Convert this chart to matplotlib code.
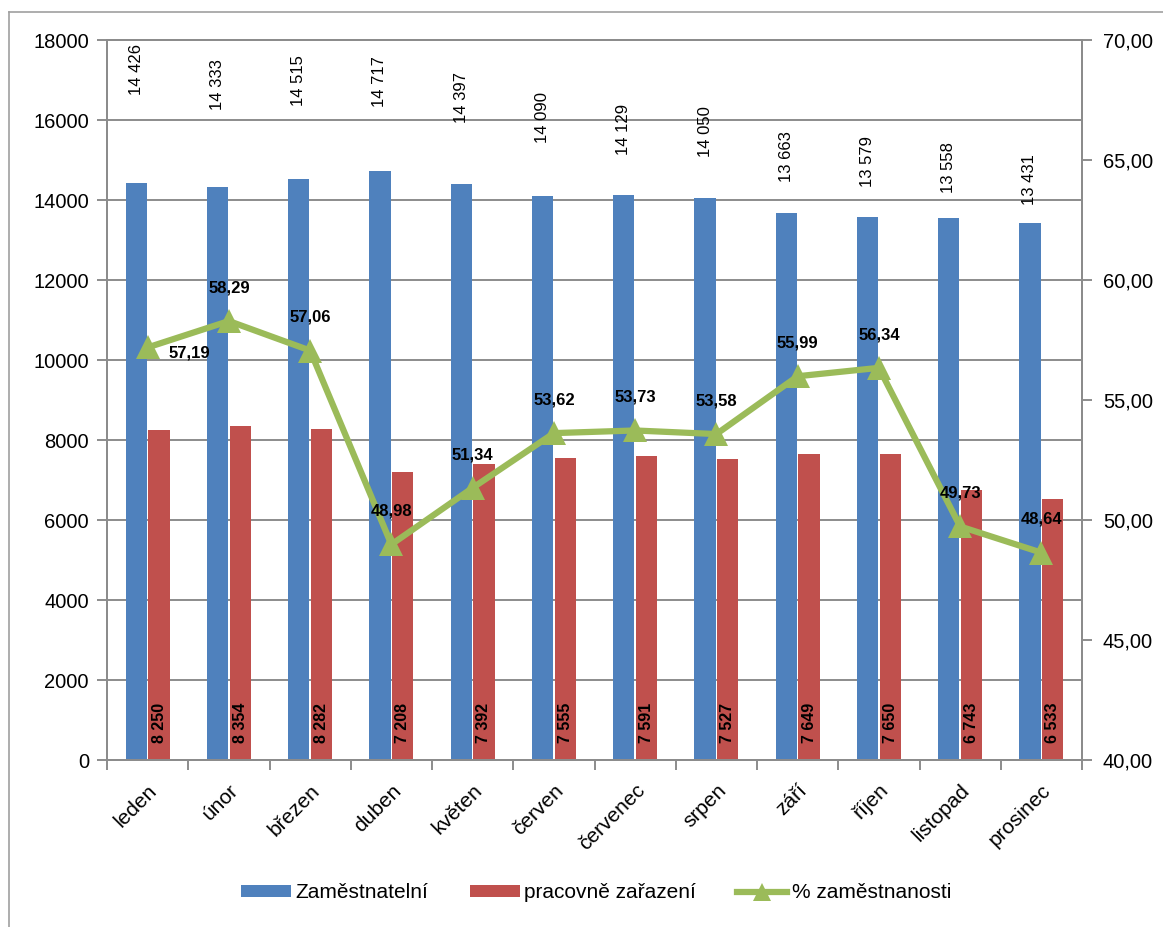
import matplotlib
matplotlib.use("Agg")
import matplotlib.pyplot as plt
import numpy as np
from matplotlib.patches import Patch
from matplotlib.lines import Line2D

plt.rcParams['font.family'] = ['Liberation Sans', 'DejaVu Sans']

months = ["leden", "únor", "březen", "duben", "květen", "červen",
          "červenec", "srpen", "září", "říjen", "listopad", "prosinec"]
zamestnatelni = [14426, 14333, 14515, 14717, 14397, 14090,
                 14129, 14050, 13663, 13579, 13558, 13431]
zarazeni = [8250, 8354, 8282, 7208, 7392, 7555,
            7591, 7527, 7649, 7650, 6743, 6533]
procento = [57.19, 58.29, 57.06, 48.98, 51.34, 53.62,
            53.73, 53.58, 55.99, 56.34, 49.73, 48.64]
left_ticks = list(range(0, 18001, 2000))
right_ticks = [40, 45, 50, 55, 60, 65, 70]

# layout: bottom of the rotated top labels (left-axis units)
top_label_base = [16625, 16250, 16350, 16325, 15925, 15425,
                  15125, 15075, 14450, 14325, 14175, 13875]

BLUE = "#4F81BD"
RED = "#C0504D"
GREEN = "#9BBB59"
GRID = "#8C8C8C"

def fmt_space(v):
    return f"{v:,}".replace(",", " ")

W, H = 1163, 927
fig = plt.figure(figsize=(W / 100, H / 100), dpi=100)
ax = fig.add_axes([107 / W, (H - 760) / H, (1082 - 107) / W, 720 / H])

x = np.arange(len(months))
bw = 0.26
off = 0.14
ax.bar(x - off, zamestnatelni, bw, color=BLUE, zorder=2)
ax.bar(x + off, zarazeni, bw, color=RED, zorder=2)

ax.set_xlim(-0.5, len(months) - 0.5)
ax.set_ylim(0, 18000)
ax.set_yticks(left_ticks)
ax.set_yticklabels([str(t) for t in left_ticks], fontsize=14.5)
ax.yaxis.grid(True, color=GRID, linewidth=1.4)
ax.set_axisbelow(True)
for s in ax.spines.values():
    s.set_color(GRID)
    s.set_linewidth(1.4)
ax.tick_params(axis='y', length=7, width=1.4, color=GRID, pad=6)

ax.set_xticks(x)
ax.set_xticklabels(months, rotation=45, ha='right', rotation_mode='anchor',
                   fontsize=15)
ax.set_xticks(np.arange(-0.5, len(months), 1), minor=True)
ax.tick_params(axis='x', which='major', length=0, pad=15)
ax.tick_params(axis='x', which='minor', length=7, width=1.4, color=GRID)

for xi, v, base in zip(x, zamestnatelni, top_label_base):
    ax.text(xi - off, base, fmt_space(v), rotation=90, ha='center', va='bottom',
            fontsize=12, zorder=5)
for xi, v in zip(x, zarazeni):
    ax.annotate(fmt_space(v), xy=(xi + off, 0), xytext=(0, 12),
                textcoords='offset points', rotation=90, ha='center',
                va='bottom', fontsize=11.5, fontweight='bold', zorder=5)

ax2 = ax.twinx()
ax2.plot(x, procento, color=GREEN, linewidth=4.5, marker='^',
         markersize=17, markeredgewidth=0, zorder=4)
ax2.set_ylim(40, 70)
ax2.set_yticks(right_ticks)
ax2.set_yticklabels([f"{t:.2f}".replace(".", ",") for t in right_ticks],
                    fontsize=14.5)
ax2.tick_params(axis='y', length=7, width=1.4, color=GRID, pad=8)
for s in ax2.spines.values():
    s.set_color(GRID)
    s.set_linewidth(1.4)

for i, (xi, p) in enumerate(zip(x, procento)):
    txt = f"{p:.2f}".replace(".", ",")
    if i == 0:
        ax2.annotate(txt, xy=(xi, p), xytext=(15, -4), textcoords='offset points',
                     ha='left', va='center', fontsize=12, fontweight='bold',
                     zorder=6)
    else:
        ax2.annotate(txt, xy=(xi, p), xytext=(0, 24), textcoords='offset points',
                     ha='center', va='center', fontsize=12, fontweight='bold',
                     zorder=6)

handles = [Patch(facecolor=BLUE, label="Zaměstnatelní"),
           Patch(facecolor=RED, label="pracovně zařazení"),
           Line2D([0], [0], color=GREEN, linewidth=4.5, marker='^',
                  markersize=13, markeredgewidth=0, label="% zaměstnanosti")]
fig.legend(handles=handles, loc='center', bbox_to_anchor=(596 / W, (H - 893) / H),
           ncol=3, frameon=False, fontsize=15, handlelength=2.4,
           handleheight=0.45, columnspacing=2.0, handletextpad=0.2)

fig.add_artist(Line2D([9 / W, 9 / W], [0, (H - 12) / H], transform=fig.transFigure,
                      color="#A0A0A0", linewidth=1.2))
fig.add_artist(Line2D([9 / W, 1], [(H - 12) / H, (H - 12) / H],
                      transform=fig.transFigure, color="#A0A0A0", linewidth=1.2))

fig.savefig("out.png", dpi=100)
